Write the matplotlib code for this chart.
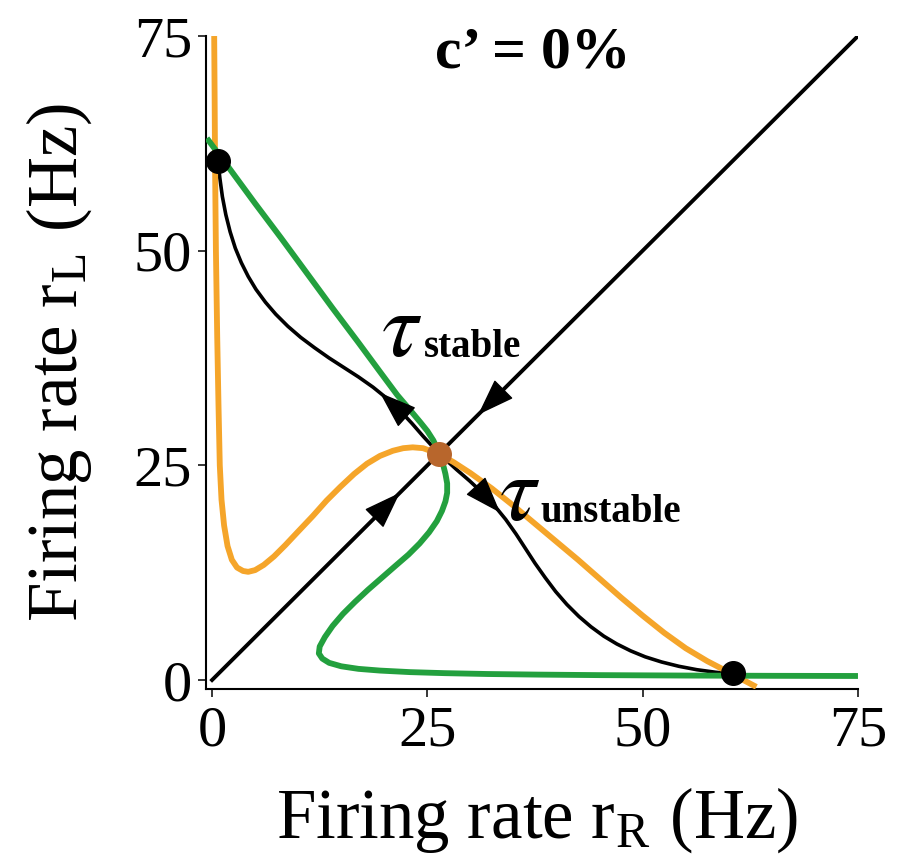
import numpy as np
import matplotlib
matplotlib.use("Agg")
import matplotlib.pyplot as plt

plt.rcParams['font.family'] = ['Liberation Serif', 'DejaVu Serif']
plt.rcParams['mathtext.fontset'] = 'stix'

# r_R nullcline (orange)
orange_x = [0.25, 0.3, 0.35, 0.45, 0.6, 0.75, 0.9, 1.1, 1.4, 1.8, 2.3, 2.9, 3.6, 4.2,
            5.0, 6.0, 7.2, 8.5, 10.0, 11.7, 13.3, 14.9, 16.5, 18.0, 19.5, 21.0, 22.2,
            23.3, 24.5, 25.6, 26.5, 28.0, 30.0, 32.5, 35.0, 37.5, 40.0, 42.5, 45.0,
            47.5, 50.0, 52.5, 55.0, 57.5, 60.0, 61.5, 63.2]
orange_y = [75, 68, 60, 50, 40, 32, 25, 21, 18, 15.6, 14.0, 13.1, 12.7, 12.6,
            12.8, 13.4, 14.4, 15.7, 17.3, 19.1, 20.9, 22.5, 24.0, 25.2, 26.1, 26.7, 27.0,
            27.1, 27.0, 26.6, 26.2, 25.4, 24.1, 22.3, 20.3, 18.2, 16.1, 14.0, 11.8,
            9.6, 7.5, 5.5, 3.7, 2.2, 0.9, 0.1, -0.8]

# r_L nullcline (green)
green_x = [-0.6, 2.0, 5.0, 8.0, 11.0, 14.0, 17.0, 19.5, 21.5, 23.2, 24.2, 25.0, 25.7,
           26.3, 26.8, 27.1, 27.3, 27.3, 27.1, 26.7, 26.1, 25.2, 24.1, 22.8, 21.3,
           19.7, 18.1, 16.6, 15.2, 14.0, 13.1, 12.5, 12.4, 12.8, 13.6, 15.0, 17.0,
           19.5, 23.0, 27.0, 32.0, 38.0, 45.0, 55.0, 65.0, 75.0]
green_y = [63.1, 59.6, 55.5, 51.5, 47.4, 43.3, 39.3, 35.9, 33.2, 31.2, 30.0, 29.0, 27.9,
           26.6, 25.2, 24.0, 22.9, 21.8, 20.8, 19.7, 18.5, 17.2, 15.9, 14.6, 13.3,
           11.9, 10.5, 9.1, 7.7, 6.3, 5.0, 3.9, 3.1, 2.5, 2.0, 1.6, 1.3,
           1.1, 0.92, 0.8, 0.7, 0.63, 0.57, 0.52, 0.49, 0.47]

# trajectory through the saddle joining the two attractors
traj_x = [0.7, 0.9, 1.2, 1.6, 2.1, 2.7, 3.4, 4.2, 5.1, 6.2, 7.4, 8.8, 10.3, 11.9,
          13.6, 15.3, 17.0, 18.7, 20.3, 21.8, 23.2, 24.5, 25.6, 26.4, 27.2, 28.4,
          29.9, 31.4, 32.8, 34.1, 35.3, 36.4, 37.5, 38.7, 39.9, 41.2, 42.6, 44.0,
          45.5, 47.0, 48.6, 50.3, 52.2, 54.2, 56.3, 58.5, 60.5]
traj_y = [60.5, 58.5, 56.3, 54.2, 52.2, 50.3, 48.6, 47.0, 45.5, 44.0, 42.6, 41.2, 39.9,
          38.7, 37.5, 36.4, 35.3, 34.1, 32.8, 31.4, 29.9, 28.4, 27.2, 26.3, 25.6,
          24.5, 23.2, 21.8, 20.3, 18.7, 17.0, 15.3, 13.6, 11.9, 10.3, 8.8, 7.4,
          6.2, 5.1, 4.2, 3.4, 2.7, 2.1, 1.6, 1.2, 0.9, 0.7]

diag_x = [0, 75]
diag_y = [0, 75]

# arrowheads: (tail, tip)
arrows = [((19.0, 19.0), (21.8, 21.8)),
          ((33.6, 33.6), (30.9, 30.9)),
          ((22.2, 31.0), (19.5, 33.45)),
          ((31.0, 22.2), (33.45, 19.5))]

stable_pts = [(0.7, 60.5), (60.5, 0.8)]
saddle = (26.4, 26.3)

ticks = [0, 25, 50, 75]

fig = plt.figure(figsize=(9, 8.64), dpi=100)
ax = fig.add_axes([0.2289, 0.2025, 0.7244, 0.7558])

ax.plot(diag_x, diag_y, color='black', lw=2.8, zorder=2)
ax.plot(traj_x, traj_y, color='black', lw=2.6, zorder=2)
ax.plot(orange_x, orange_y, color='#f5a52a', lw=4.2, zorder=3, solid_capstyle='butt')
ax.plot(green_x, green_y, color='#23a03e', lw=4.2, zorder=3, solid_capstyle='butt')

for tail, tip in arrows:
    ax.annotate('', xy=tip, xytext=tail,
                arrowprops=dict(arrowstyle='-|>,head_length=2.4,head_width=0.85',
                                mutation_scale=10, color='black', lw=1,
                                shrinkA=0, shrinkB=0), zorder=4)

for px, py in stable_pts:
    ax.plot(px, py, 'o', color='black', ms=17, zorder=5, clip_on=False)
ax.plot(saddle[0], saddle[1], 'o', color='#b8662c', ms=18, zorder=5, mec='none')

ax.text(37.3, 73.0, 'c’ = 0%', fontsize=43, fontweight='bold', ha='center', va='center')
ax.text(19.6, 37.7, r'$\tau$', fontsize=66, ha='left', va='baseline')
ax.text(24.6, 37.6, 'stable', fontsize=28, fontweight='bold', ha='left', va='baseline')
ax.text(33.3, 18.6, r'$\tau$', fontsize=66, ha='left', va='baseline')
ax.text(38.1, 18.4, 'unstable', fontsize=28, fontweight='bold', ha='left', va='baseline')

ax.set_xlim(-0.7, 75)
ax.set_ylim(-1.05, 75)
ax.set_xticks(ticks)
ax.set_yticks(ticks)
ax.tick_params(labelsize=42, length=6, width=1.1, pad=4)
ax.tick_params(axis='x', pad=6)
for s in ['top', 'right']:
    ax.spines[s].set_visible(False)
for s in ['left', 'bottom']:
    ax.spines[s].set_linewidth(1.5)

ax.set_xlabel(r'Firing rate r$_\mathregular{R}$ (Hz)', fontsize=51)
ax.set_ylabel(r'Firing rate r$_\mathregular{L}$ (Hz)', fontsize=51)
ax.xaxis.set_label_coords(0.508, -0.20)
ax.xaxis.label.set_verticalalignment('center')
ax.yaxis.set_label_coords(-0.225, 0.50)
ax.yaxis.label.set_verticalalignment('center')

fig.savefig('out.png', dpi=100)
